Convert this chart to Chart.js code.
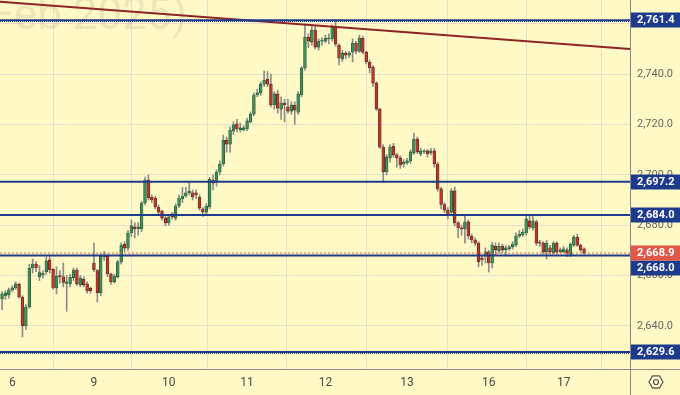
<!DOCTYPE html>
<html>
<head>
<meta charset="utf-8">
<script src="https://cdn.jsdelivr.net/npm/chart.js@4.4.1/dist/chart.umd.min.js"></script>
<style>
  html, body { margin: 0; padding: 0; background: #fff9c6; }
  #wrap { width: 680px; height: 395px; position: relative; }
</style>
</head>
<body>
<div id="wrap"><canvas id="priceChart"></canvas></div>
<script>
// Hourly candles
const opens = [
  2650.7, 2651.9, 2652.3, 2654.3, 2655.1, 2656.5, 2651.5, 2640.0, 2647.5, 2663.0,
  2664.6, 2659.6, 2660.2, 2661.5, 2666.2, 2662.5, 2655.1, 2660.0, 2659.5, 2656.9,
  2656.7, 2659.2, 2662.2, 2656.3, 2658.6, 2656.7, 2654.9, 2665.0, 2662.0, 2653.1,
  2668.2, 2667.8, 2660.6, 2657.5, 2659.5, 2665.4, 2672.5, 2670.9, 2676.9, 2679.3,
  2678.5, 2678.5, 2688.8, 2697.9, 2691.2, 2690.8, 2687.2, 2685.6, 2682.8, 2680.9,
  2684.5, 2682.8, 2687.6, 2690.4, 2691.6, 2692.9, 2692.8, 2692.8, 2691.2, 2686.4,
  2685.2, 2687.2, 2697.9, 2697.5, 2701.1, 2704.3, 2713.8, 2712.2, 2717.4, 2720.2,
  2717.8, 2717.8, 2718.2, 2721.0, 2724.1, 2731.7, 2732.5, 2736.0, 2738.0, 2736.0,
  2727.7, 2732.1, 2726.1, 2728.5, 2726.9, 2725.3, 2727.7, 2724.9, 2731.7, 2742.4,
  2754.7, 2752.7, 2757.5, 2750.7, 2753.1, 2753.1, 2753.9, 2753.9, 2758.7, 2751.5,
  2746.0, 2748.3, 2747.5, 2748.7, 2752.3, 2749.1, 2754.3, 2748.7, 2744.8, 2742.8,
  2736.4, 2726.1, 2711.0, 2701.1, 2706.7, 2711.4, 2707.9, 2706.7, 2704.3, 2704.7,
  2705.5, 2708.7, 2714.2, 2708.3, 2709.1, 2709.5, 2708.7, 2709.5, 2704.3, 2694.4,
  2688.2, 2686.0, 2685.2, 2693.6, 2680.9, 2678.9, 2678.5, 2681.3, 2675.7, 2674.1,
  2672.9, 2667.0, 2668.2, 2669.4, 2665.0, 2671.7, 2669.8, 2671.7, 2670.2, 2670.6,
  2671.4, 2672.1, 2675.7, 2676.1, 2676.9, 2681.7, 2678.9, 2681.3, 2673.3, 2672.9,
  2669.4, 2671.0, 2669.0, 2672.9, 2669.4, 2669.4, 2670.2, 2668.2, 2672.1, 2675.3,
  2672.1, 2670.6
];
const highs = [
  2653.5, 2654.0, 2655.0, 2656.0, 2657.5, 2657.0, 2652.0, 2648.5, 2664.5, 2666.6,
  2665.5, 2664.0, 2662.0, 2667.4, 2667.5, 2663.0, 2663.5, 2662.0, 2665.0, 2660.0,
  2660.5, 2663.0, 2663.0, 2660.0, 2659.5, 2657.5, 2655.5, 2672.9, 2662.5, 2668.5,
  2669.5, 2668.5, 2661.0, 2660.5, 2666.0, 2673.0, 2673.5, 2678.0, 2682.0, 2681.0,
  2681.0, 2689.5, 2699.1, 2699.9, 2692.0, 2691.5, 2688.0, 2686.0, 2683.5, 2684.0,
  2685.0, 2688.5, 2692.0, 2695.0, 2695.0, 2697.5, 2694.0, 2694.0, 2692.0, 2687.0,
  2688.5, 2699.0, 2700.0, 2702.0, 2705.5, 2715.8, 2715.0, 2719.0, 2721.0, 2722.0,
  2720.5, 2719.5, 2722.5, 2725.0, 2732.5, 2734.0, 2737.0, 2741.2, 2741.0, 2740.0,
  2733.0, 2733.5, 2731.0, 2730.0, 2730.0, 2729.0, 2729.0, 2733.0, 2743.0, 2759.8,
  2756.0, 2758.8, 2759.1, 2754.0, 2754.5, 2755.5, 2756.0, 2759.5, 2761.4, 2752.0,
  2749.5, 2749.0, 2749.0, 2754.0, 2753.0, 2755.5, 2755.0, 2749.0, 2745.5, 2743.5,
  2737.0, 2726.5, 2712.0, 2708.0, 2712.0, 2712.5, 2708.5, 2707.5, 2706.0, 2706.5,
  2710.0, 2716.6, 2715.0, 2710.5, 2710.0, 2710.0, 2710.5, 2710.5, 2705.0, 2695.0,
  2689.0, 2687.0, 2694.5, 2695.2, 2681.5, 2680.0, 2683.5, 2682.0, 2676.5, 2675.0,
  2673.5, 2668.0, 2671.0, 2670.0, 2673.3, 2673.0, 2673.0, 2672.5, 2672.0, 2672.0,
  2673.5, 2677.0, 2678.0, 2678.5, 2683.7, 2684.0, 2683.5, 2682.0, 2674.0, 2673.5,
  2674.0, 2672.0, 2673.5, 2673.5, 2671.0, 2671.5, 2671.0, 2673.0, 2676.0, 2676.5,
  2672.5, 2671.0
];
const lows = [
  2646.5, 2650.5, 2651.0, 2653.5, 2654.5, 2651.0, 2635.6, 2638.5, 2647.0, 2661.0,
  2661.5, 2658.0, 2659.0, 2660.5, 2661.0, 2654.5, 2652.7, 2657.0, 2655.5, 2645.8,
  2655.5, 2658.0, 2656.0, 2655.5, 2655.5, 2653.0, 2653.0, 2661.5, 2649.5, 2652.0,
  2666.0, 2659.5, 2656.5, 2657.0, 2659.0, 2664.5, 2669.5, 2670.0, 2675.5, 2675.0,
  2676.0, 2677.5, 2688.0, 2690.0, 2689.0, 2686.5, 2684.0, 2682.0, 2679.7, 2680.0,
  2682.5, 2682.0, 2687.0, 2689.0, 2691.0, 2692.0, 2690.0, 2690.5, 2686.0, 2683.5,
  2684.0, 2686.5, 2694.0, 2695.5, 2700.0, 2703.5, 2709.0, 2709.0, 2716.0, 2717.0,
  2717.0, 2717.5, 2717.5, 2720.5, 2723.5, 2731.0, 2731.5, 2735.0, 2735.0, 2727.0,
  2726.0, 2724.5, 2722.0, 2721.0, 2724.5, 2724.0, 2720.0, 2724.0, 2731.0, 2741.5,
  2750.5, 2751.5, 2750.0, 2749.5, 2751.5, 2752.5, 2752.0, 2753.0, 2751.0, 2743.6,
  2745.0, 2746.0, 2746.5, 2744.8, 2748.0, 2748.5, 2748.0, 2744.0, 2740.5, 2735.0,
  2725.5, 2710.5, 2697.1, 2700.0, 2705.0, 2707.0, 2703.0, 2702.5, 2703.0, 2704.0,
  2704.5, 2708.0, 2708.5, 2707.5, 2708.5, 2707.0, 2708.0, 2703.0, 2693.5, 2686.5,
  2685.0, 2682.5, 2684.5, 2679.7, 2675.0, 2676.0, 2672.9, 2674.5, 2673.0, 2672.0,
  2663.5, 2664.0, 2665.0, 2661.4, 2663.0, 2668.0, 2669.0, 2669.0, 2667.8, 2670.0,
  2670.5, 2671.5, 2675.0, 2675.5, 2676.0, 2678.5, 2678.0, 2672.0, 2671.5, 2668.5,
  2666.6, 2668.5, 2668.5, 2668.5, 2669.0, 2669.0, 2667.5, 2667.5, 2671.5, 2671.5,
  2669.5, 2668.5
];
const closes = [
  2652.7, 2653.1, 2654.3, 2655.1, 2656.7, 2651.5, 2640.0, 2647.5, 2663.0, 2664.6,
  2663.0, 2661.2, 2661.0, 2665.8, 2662.2, 2655.1, 2659.8, 2659.5, 2657.3, 2657.5,
  2659.4, 2662.2, 2656.7, 2659.0, 2656.3, 2653.9, 2653.9, 2662.2, 2653.1, 2667.8,
  2667.4, 2660.6, 2657.5, 2659.8, 2665.4, 2672.1, 2670.9, 2676.9, 2679.7, 2678.5,
  2679.3, 2688.8, 2697.9, 2690.8, 2690.0, 2687.2, 2685.2, 2682.8, 2680.9, 2683.3,
  2683.3, 2687.6, 2690.8, 2691.6, 2692.8, 2693.4, 2691.2, 2692.0, 2686.8, 2685.2,
  2687.6, 2698.3, 2696.7, 2701.1, 2704.3, 2713.8, 2712.2, 2717.8, 2719.8, 2718.2,
  2718.6, 2718.6, 2721.4, 2724.1, 2731.7, 2732.5, 2736.0, 2737.6, 2736.0, 2727.7,
  2732.1, 2726.5, 2728.5, 2727.7, 2725.3, 2727.7, 2725.7, 2732.1, 2742.4, 2754.7,
  2753.1, 2757.5, 2750.7, 2753.1, 2753.5, 2754.3, 2754.3, 2758.7, 2751.9, 2746.3,
  2748.3, 2747.5, 2748.3, 2752.3, 2749.1, 2754.3, 2748.7, 2744.8, 2742.4, 2736.4,
  2726.1, 2711.0, 2701.1, 2707.1, 2711.0, 2707.9, 2706.7, 2703.9, 2705.1, 2705.5,
  2709.1, 2714.2, 2709.1, 2709.5, 2709.5, 2708.3, 2709.5, 2704.3, 2694.4, 2688.2,
  2686.0, 2684.0, 2693.6, 2680.9, 2678.9, 2678.5, 2681.3, 2675.7, 2674.1, 2672.9,
  2665.4, 2666.2, 2669.4, 2665.0, 2672.1, 2670.2, 2671.7, 2670.2, 2671.0, 2671.4,
  2672.5, 2675.7, 2676.5, 2677.3, 2682.5, 2679.3, 2681.7, 2672.9, 2672.9, 2669.4,
  2672.9, 2669.4, 2672.9, 2669.4, 2670.2, 2670.6, 2668.9, 2672.5, 2675.3, 2672.1,
  2670.2, 2668.9
];

// time axis: day labels and the candle where each day starts
const dayLabels = ["6", "9", "10", "11", "12", "13", "16", "17"];
const dayStarts = [3, 27, 49, 72, 95, 119, 143, 165];

// price axis
const priceTicks = [2640, 2660, 2680, 2700, 2720, 2740, 2760];

// drawn levels
const levels = [2761.4, 2697.2, 2684.0, 2668.0, 2629.6];
const dottedLevels = [2761.4, 2629.6];
const lastPrice = 2668.9;
const trendFrom = 2768.7;
const trendTo = 2749.9;

const xMin = -0.6;
const xMax = 184.5;
const yMin = 2622.9;
const yMax = 2769.4;

const UP = "#3f8c5a";
const UP_EDGE = "#1f4f30";
const DOWN = "#b33a2e";
const DOWN_EDGE = "#5e1a14";
const NAVY = "#1e3a8c";
const GRID = "rgba(190, 190, 215, 0.4)";

const fmt = (v) =>
  v.toLocaleString("en-US", { minimumFractionDigits: 1, maximumFractionDigits: 1 });

const isUp = opens.map((o, i) => closes[i] >= o);
const wicks = opens.map((o, i) => ({ x: i, y: [lows[i], highs[i]] }));
const bodies = opens.map((o, i) => ({ x: i, y: [o, closes[i]] }));

const levelSets = levels.map((v) => ({
  type: "line",
  data: [{ x: xMin, y: v }, { x: xMax, y: v }],
  borderColor: NAVY,
  borderWidth: 2,
  pointRadius: 0,
  order: 0,
}));

// extras drawn straight on the canvas
const overlay = {
  id: "overlay",
  beforeDatasetsDraw(chart) {
    const { ctx, chartArea } = chart;
    ctx.save();
    ctx.beginPath();
    ctx.rect(chartArea.left, chartArea.top, chartArea.width, chartArea.height);
    ctx.clip();
    ctx.font = "44px Roboto";
    ctx.fillStyle = "rgba(80, 80, 80, 0.11)";
    ctx.textAlign = "right";
    ctx.textBaseline = "alphabetic";
    ctx.fillText("Feb 2025)", 187, 29);
    ctx.restore();
  },
  afterDatasetsDraw(chart) {
    const { ctx, chartArea } = chart;
    const y = chart.scales.y;
    ctx.save();
    ctx.strokeStyle = NAVY;
    ctx.lineWidth = 1;
    ctx.setLineDash([1, 1]);
    dottedLevels.forEach((v) => {
      const py = Math.round(y.getPixelForValue(v)) + 1.5;
      ctx.beginPath();
      ctx.moveTo(chartArea.left, py);
      ctx.lineTo(chartArea.right, py);
      ctx.stroke();
    });
    ctx.restore();
  },
  afterDraw(chart) {
    const { ctx, chartArea, width, height } = chart;
    const y = chart.scales.y;
    ctx.save();

    // axis borders
    ctx.strokeStyle = "#8a8a8a";
    ctx.lineWidth = 1;
    ctx.beginPath();
    ctx.moveTo(chartArea.right + 0.5, 0);
    ctx.lineTo(chartArea.right + 0.5, height);
    ctx.moveTo(0, chartArea.bottom + 0.5);
    ctx.lineTo(width, chartArea.bottom + 0.5);
    ctx.stroke();

    // price tags on the right axis
    const cur = { v: lastPrice, py: y.getPixelForValue(lastPrice), bg: "#e1574a" };
    const tags = levels.map((v) => ({ v, py: y.getPixelForValue(v), bg: NAVY }));
    tags.forEach((t) => {
      if (Math.abs(t.py - cur.py) < 15) t.py = t.py >= cur.py ? cur.py + 15 : cur.py - 15;
    });
    ctx.font = "bold 11px Roboto";
    ctx.textAlign = "left";
    ctx.textBaseline = "middle";
    tags.concat([cur]).forEach((t) => {
      ctx.fillStyle = t.bg;
      ctx.fillRect(chartArea.right + 1, Math.round(t.py) - 7.5, width - chartArea.right - 1, 15);
      ctx.fillStyle = "#ffffff";
      ctx.fillText(fmt(t.v), chartArea.right + 7, Math.round(t.py) + 0.5);
    });

    // settings icon bottom-right
    const cx = 656, cy = 382, r = 7;
    ctx.strokeStyle = "#555555";
    ctx.lineWidth = 1.2;
    ctx.beginPath();
    for (let k = 0; k < 6; k++) {
      const a = (Math.PI / 3) * k;
      const px = cx + r * Math.cos(a);
      const py = cy + r * Math.sin(a);
      if (k === 0) ctx.moveTo(px, py);
      else ctx.lineTo(px, py);
    }
    ctx.closePath();
    ctx.stroke();
    ctx.beginPath();
    ctx.arc(cx, cy, 2.5, 0, Math.PI * 2);
    ctx.stroke();
    ctx.restore();
  },
};

Chart.defaults.font.family = "Roboto";

const ctx = document.getElementById("priceChart").getContext("2d");
const priceChart = new Chart(ctx, {
  type: "bar",
  data: {
    datasets: [
      {
        data: wicks,
        backgroundColor: "#8c8c8c",
        barThickness: 1,
        grouped: false,
        order: 2,
      },
      {
        data: bodies,
        backgroundColor: isUp.map((u) => (u ? UP : DOWN)),
        borderColor: isUp.map((u) => (u ? UP_EDGE : DOWN_EDGE)),
        borderWidth: 0.6,
        borderSkipped: false,
        barThickness: 2.8,
        minBarLength: 1,
        grouped: false,
        order: 1,
      },
      ...levelSets,
      {
        type: "line",
        data: [{ x: xMin, y: lastPrice }, { x: xMax, y: lastPrice }],
        borderColor: "#e0603f",
        borderWidth: 1,
        borderDash: [2, 2],
        pointRadius: 0,
        order: 0,
      },
      {
        type: "line",
        data: [{ x: xMin, y: trendFrom }, { x: xMax, y: trendTo }],
        borderColor: "#8e2424",
        borderWidth: 2,
        pointRadius: 0,
        order: 0,
      },
    ],
  },
  options: {
    responsive: true,
    maintainAspectRatio: false,
    animation: false,
    layout: { padding: 0 },
    plugins: {
      legend: { display: false },
      tooltip: { enabled: false },
    },
    scales: {
      x: {
        type: "linear",
        offset: false,
        min: xMin,
        max: xMax,
        afterBuildTicks: (scale) => {
          scale.ticks = dayStarts.map((v) => ({ value: v }));
        },
        afterFit: (scale) => {
          scale.height = 26;
          scale.paddingLeft = 0;
          scale.paddingRight = 0;
        },
        grid: { color: GRID, drawTicks: false },
        border: { display: false },
        ticks: {
          autoSkip: false,
          maxRotation: 0,
          padding: 7,
          color: "#4a4a4a",
          font: { size: 12 },
          callback: (value, index) => dayLabels[index],
        },
      },
      y: {
        position: "right",
        min: yMin,
        max: yMax,
        afterBuildTicks: (scale) => {
          scale.ticks = priceTicks.map((v) => ({ value: v }));
        },
        afterFit: (scale) => {
          scale.width = 50;
          scale.paddingTop = 0;
          scale.paddingBottom = 0;
        },
        grid: { color: GRID, drawTicks: false },
        border: { display: false },
        ticks: {
          padding: 7,
          color: "#666666",
          font: { size: 11 },
          callback: (value) => fmt(value),
        },
      },
    },
  },
  plugins: [overlay],
});
</script>
</body>
</html>
